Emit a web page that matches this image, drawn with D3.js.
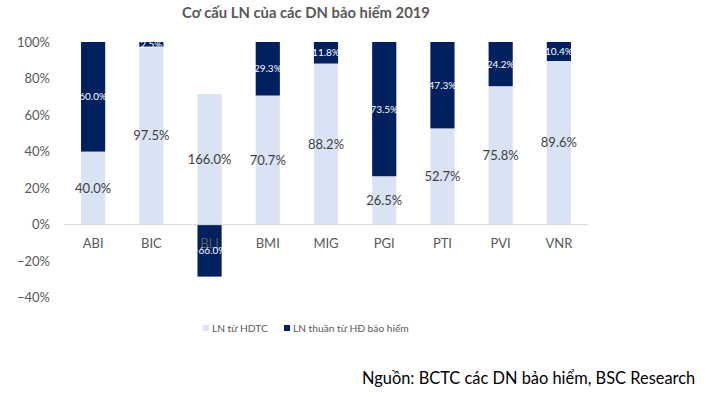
<!DOCTYPE html>
<html><head><meta charset="utf-8">
<script src="https://cdn.jsdelivr.net/npm/d3@7"></script>
<style>body{margin:0;background:#fff}svg{display:block}text{font-family:Lato,"Open Sans",sans-serif}</style>
</head><body><svg id="c" width="714" height="397"></svg>
<script>
const categories = ["ABI","BIC","BLI","BMI","MIG","PGI","PTI","PVI","VNR"];
const lnHDTC = [40.0,97.5,166.0,70.7,88.2,26.5,52.7,75.8,89.6];
const lnBaoHiem = [60.0,2.5,-66.0,29.3,11.8,73.5,47.3,24.2,10.4];
const yTicks = [-0.4,-0.2,0,0.2,0.4,0.6,0.8,1.0];
const seriesNames = ["LN từ HDTC","LN thuần từ HĐ bảo hiểm"];
const colors = ["#DAE3F3","#002060"];

const svg = d3.select("#c");
const x = d3.scaleBand().domain(categories).range([64,588]).paddingInner(0.585).paddingOuter(0.2925);
const y = d3.scaleLinear().domain([-0.4,1.0]).range([297.7,42]);

svg.append("text").attr("x",306).attr("y",18).attr("text-anchor","middle")
  .attr("font-size",14.8).attr("font-weight","bold").attr("fill","#595959")
  .text("Cơ cấu LN của các DN bảo hiểm 2019");

const yAxis = d3.axisLeft(y).tickValues(yTicks).tickFormat(d3.format(".0%")).tickSize(0).tickPadding(0);
const ga = svg.append("g").attr("transform","translate(50,0)").call(yAxis);
ga.select(".domain").remove();
ga.selectAll("text").attr("font-size",13).attr("fill","#595959").attr("font-family","Lato,'Open Sans',sans-serif");

const data = categories.map((c,i)=>{
  const vals=[lnHDTC[i],lnBaoHiem[i]];
  const tot=d3.sum(vals,v=>Math.abs(v));
  let pos=0,neg=0;
  return vals.map((v,k)=>{
    const p=v/tot; let y0,y1;
    if(p>=0){y0=pos;y1=pos+p;pos=y1;} else {y0=neg;y1=neg+p;neg=y1;}
    return {c,k,v,y0,y1};
  });
}).flat();

const bw = x.bandwidth();
svg.append("g").selectAll("rect").data(data).join("rect")
  .attr("x",d=>x(d.c)).attr("width",bw)
  .attr("y",d=>y(Math.max(d.y0,d.y1))).attr("height",d=>Math.abs(y(d.y0)-y(d.y1)))
  .attr("fill",d=>colors[d.k]);

svg.append("line").attr("x1",64).attr("x2",588).attr("y1",y(0)).attr("y2",y(0))
  .attr("stroke","#D9D9D9").attr("stroke-width",1);

const gx = svg.append("g").attr("transform",`translate(0,${y(0)})`)
  .call(d3.axisBottom(x).tickSize(0).tickPadding(14));
gx.select(".domain").remove();
gx.selectAll("text").attr("font-size",13).attr("fill","#595959").attr("font-family","Lato,'Open Sans',sans-serif");

svg.append("g").selectAll("text").data(data).join("text")
  .attr("x",d=>x(d.c)+bw/2).attr("y",d=>y((d.y0+d.y1)/2))
  .attr("dy","0.35em").attr("text-anchor","middle")
  .attr("font-size",d=>d.k===0?13:10).attr("fill",d=>d.k===0?"#404040":"#ffffff")
  .text(d=>d3.format(".1f")(d.v)+"%");

const lg = svg.append("g").attr("font-size",10.2);
const lx=[203,284];
seriesNames.forEach((n,i)=>{
  lg.append("rect").attr("x",lx[i]).attr("y",325).attr("width",6).attr("height",6).attr("fill",colors[i]);
  lg.append("text").attr("x",lx[i]+9).attr("y",328).attr("dy","0.35em").attr("fill","#595959").text(n);
});

svg.append("text").attr("x",362).attr("y",384).attr("font-size",16.4).attr("fill","#000")
  .text("Nguồn: BCTC các DN bảo hiểm, BSC Research");
</script></body></html>
